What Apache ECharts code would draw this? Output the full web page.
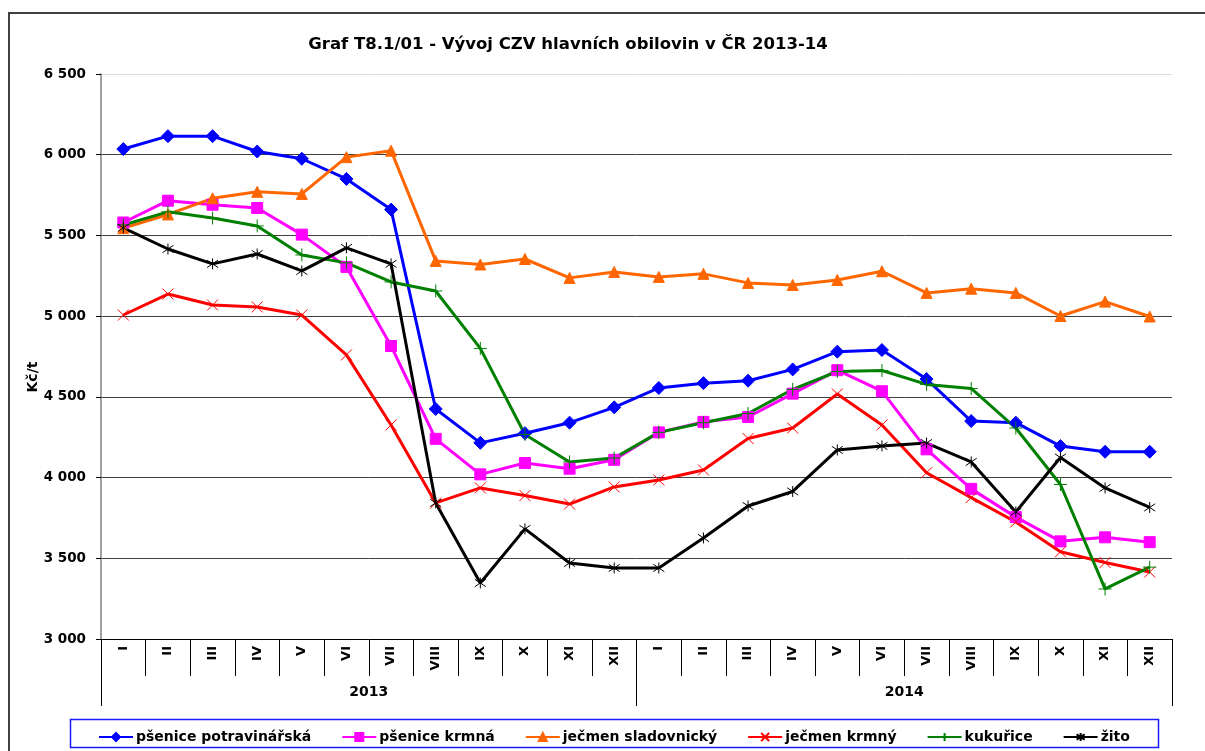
<!DOCTYPE html>
<html>
<head>
<meta charset="utf-8">
<title>Graf T8.1/01</title>
<script src="https://cdn.jsdelivr.net/npm/echarts/dist/echarts.min.js"></script>
<style>
  html, body { margin: 0; padding: 0; background: #fff; }
  #chart { width: 1205px; height: 751px; }
</style>
</head>
<body>
<div id="chart"></div>
<script>
// kategorie: měsíce a roky
var months = ["I", "II", "III", "IV", "V", "VI", "VII", "VIII", "IX", "X", "XI", "XII",
              "I ", "II ", "III ", "IV ", "V ", "VI ", "VII ", "VIII ", "IX ", "X ", "XI ", "XII "];
var years = ["2013", "2014"];

// CZV v Kč/t
var psenicePotravinarska = [6035, 6115, 6115, 6020, 5975, 5850, 5660, 4425, 4215, 4275, 4340, 4435,
                            4555, 4585, 4600, 4670, 4780, 4790, 4610, 4350, 4340, 4195, 4160, 4160];
var pseniceKrmna = [5580, 5715, 5690, 5670, 5505, 5305, 4815, 4240, 4020, 4090, 4055, 4110,
                    4280, 4345, 4375, 4520, 4665, 4535, 4175, 3930, 3755, 3605, 3630, 3600];
var jecmenSladovnicky = [5545, 5630, 5730, 5770, 5757, 5985, 6025, 5342, 5320, 5354, 5237, 5274,
                         5243, 5262, 5206, 5193, 5224, 5278, 5144, 5170, 5144, 5001, 5090, 4998];
var jecmenKrmny = [5007, 5137, 5069, 5057, 5007, 4760, 4326, 3843, 3936, 3889, 3836, 3942,
                   3985, 4047, 4242, 4307, 4518, 4326, 4030, 3876, 3725, 3540, 3474, 3415];
var kukurice = [5565, 5646, 5608, 5559, 5379, 5330, 5212, 5156, 4800, 4267, 4097, 4121,
                4280, 4340, 4397, 4546, 4657, 4663, 4577, 4552, 4307, 3957, 3310, 3445];
var zito = [5547, 5416, 5324, 5385, 5280, 5423, 5324, 3843, 3347, 3682, 3471, 3440,
            3440, 3626, 3824, 3914, 4171, 4196, 4214, 4097, 3787, 4124, 3936, 3815];

var FONT = "DejaVu Sans, Liberation Sans, Arial, sans-serif";

function mkSeries(name, data, color, symbol, size) {
  return {
    name: name,
    type: "line",
    data: data,
    symbol: symbol,
    symbolSize: size,
    showAllSymbol: true,
    lineStyle: { color: color, width: 3 },
    itemStyle: { color: color, borderColor: color, borderWidth: 1 },
    emphasis: { disabled: true },
    animation: false
  };
}

var myChart = echarts.init(document.getElementById("chart"));
myChart.setOption({
  backgroundColor: "#fff",
  textStyle: { fontFamily: FONT },
  title: {
    text: "Graf T8.1/01 - Vývoj CZV hlavních obilovin v ČR 2013-14",
    left: 568,
    textAlign: "center",
    top: 36,
    padding: 0,
    textStyle: { fontFamily: FONT, fontSize: 16.5, fontWeight: "bold", color: "#000" }
  },
  legend: {
    left: 93,
    top: 725,
    itemWidth: 34,
    itemHeight: 10,
    itemGap: 30,
    textStyle: { fontFamily: FONT, fontSize: 14, fontWeight: "bold", color: "#000", padding: [0, 0, 0, -2] },
    data: ["pšenice potravinářská", "pšenice krmná", "ječmen sladovnický", "ječmen krmný", "kukuřice", "žito"]
  },
  grid: { left: 101, right: 33, top: 74, bottom: 112 },
  xAxis: [
    {
      type: "category",
      data: months,
      boundaryGap: true,
      axisLine: { show: true, lineStyle: { color: "#000", width: 1 } },
      axisTick: { show: true, interval: 0, length: 37, lineStyle: { color: "#000" } },
      axisLabel: {
        interval: 0,
        rotate: 90,
        margin: 7,
        fontFamily: FONT,
        fontSize: 13,
        fontWeight: "bold",
        color: "#000",
        formatter: function (v) { return v.trim(); }
      },
      splitLine: { show: false }
    },
    {
      type: "category",
      data: years,
      position: "bottom",
      offset: 37,
      boundaryGap: true,
      axisLine: { show: false },
      axisTick: { show: true, interval: 0, length: 30, lineStyle: { color: "#000" } },
      axisLabel: { margin: 9, fontFamily: FONT, fontSize: 14, fontWeight: "bold", color: "#000" },
      splitLine: { show: false }
    }
  ],
  yAxis: {
    type: "value",
    min: 3000,
    max: 6500,
    interval: 500,
    axisLine: { show: true, lineStyle: { color: "#808080", width: 1.5 } },
    axisTick: { show: true, length: 5, lineStyle: { color: "#000" } },
    axisLabel: {
      margin: 15,
      fontFamily: FONT,
      fontSize: 13.5,
      fontWeight: "bold",
      color: "#000",
      formatter: function (v) { return String(v).replace(/\B(?=(\d{3})+(?!\d))/g, " "); }
    },
    splitLine: {
      show: true,
      lineStyle: {
        // horní čára je světlá
        color: ["#404040", "#404040", "#404040", "#404040", "#404040", "#404040", "#404040", "#dcdcdc"],
        width: 1
      }
    }
  },
  graphic: [
    {
      type: "rect",
      shape: { x: 9, y: 13, width: 1220, height: 780 },
      style: { fill: "none", stroke: "#404040", lineWidth: 2 },
      silent: true
    },
    {
      type: "rect",
      shape: { x: 70.5, y: 719.5, width: 1088, height: 28 },
      style: { fill: "none", stroke: "#1a1aff", lineWidth: 1.5 },
      silent: true,
      z: -1
    },
    {
      type: "text",
      x: 33,
      y: 377,
      rotation: Math.PI / 2,
      style: {
        text: "Kč/t",
        fontFamily: FONT,
        fontSize: 14,
        fontWeight: "bold",
        fill: "#000",
        align: "center",
        verticalAlign: "middle"
      },
      silent: true
    }
  ],
  series: [
    mkSeries("pšenice potravinářská", psenicePotravinarska, "#0000ff", "diamond", 13),
    mkSeries("pšenice krmná", pseniceKrmna, "#ff00ff", "rect", 11),
    mkSeries("ječmen sladovnický", jecmenSladovnicky, "#ff6600", "triangle", 11),
    mkSeries("ječmen krmný", jecmenKrmny, "#ff0000", "path://M0,0L10,10M10,0L0,10", 11),
    mkSeries("kukuřice", kukurice, "#008000", "path://M5,0L5,10M0,5L10,5", 13),
    mkSeries("žito", zito, "#000000", "path://M0,1L10,9M10,1L0,9M5,-1L5,11", 11)
  ]
});
</script>
</body>
</html>
